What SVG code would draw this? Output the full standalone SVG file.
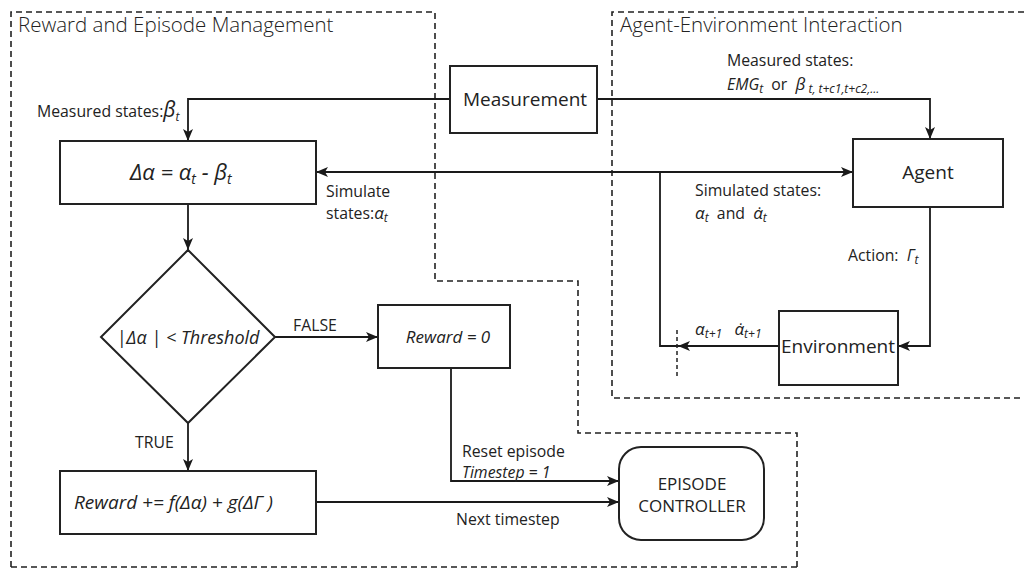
<svg xmlns="http://www.w3.org/2000/svg" width="1024" height="569" viewBox="0 0 1024 569">
<defs>
<marker id="arr" viewBox="0 0 12 10" refX="12" refY="5" markerWidth="12" markerHeight="10" markerUnits="userSpaceOnUse" orient="auto-start-reverse">
<path d="M0,0 L12,5 L0,10 L3,5 z" fill="#1a1a1a"/>
</marker>
</defs>
<style>
text{font-family:"Open Sans","Liberation Sans",sans-serif;fill:#222}
.title{font-size:20.5px;font-weight:300}
.lbl{font-size:15.8px}
.node{font-size:19px}
.it{font-style:italic}
.box{fill:#fff;stroke:#222;stroke-width:2}
.con{fill:none;stroke:#1a1a1a;stroke-width:1.8}
.dash{fill:none;stroke:#222;stroke-width:1.6;stroke-dasharray:6,4}
.sub{font-size:12px}
</style>
<rect width="1024" height="569" fill="#fff"/>
<g id="regions">
<path class="dash" d="M11,567 V12 H435 V281 H578 V433 H797 V569"/>
<path class="dash" d="M11,567 H797"/>
<path class="dash" d="M1024,12 H612 V398 H1024"/>
<text class="title" x="18" y="32">Reward and Episode Management</text>
<text class="title" x="620" y="32">Agent-Environment Interaction</text>
</g>
<g id="connectors">
<path class="con" d="M450,99 H188 V141" marker-end="url(#arr)"/>
<path class="con" d="M597,99 H930 V139" marker-end="url(#arr)"/>
<path class="con" d="M316,172 H853" marker-start="url(#arr)" marker-end="url(#arr)"/>
<path class="con" d="M779,346 H678" marker-end="url(#arr)"/>
<path class="con" d="M680,346 H660 V172"/>
<path d="M677,330 V376" fill="none" stroke="#222" stroke-width="1.5" stroke-dasharray="4,3"/>
<path class="con" d="M930,207 V346 H898" marker-end="url(#arr)"/>
<path class="con" d="M188,204 V250" marker-end="url(#arr)"/>
<path class="con" d="M275,337 H378" marker-end="url(#arr)"/>
<path class="con" d="M188,423 V471" marker-end="url(#arr)"/>
<path class="con" d="M451,368 V481 H619" marker-end="url(#arr)"/>
<path class="con" d="M316,502 H619" marker-end="url(#arr)"/>
<text class="lbl" x="37" y="117">Measured states:<tspan class="it" font-size="21">β</tspan><tspan class="it sub" dy="4">t</tspan></text>
<text class="lbl" x="727" y="66">Measured states:</text>
<text class="lbl" x="727" y="90" xml:space="preserve"><tspan class="it">EMG</tspan><tspan class="it sub" dy="3">t</tspan><tspan dy="-3">  or  </tspan><tspan class="it" font-size="17">β</tspan><tspan class="it sub" dy="3"> t, t+c1,t+c2,...</tspan></text>
<text class="lbl" x="326" y="197">Simulate</text>
<text class="lbl" x="326" y="219">states:<tspan class="it" font-size="17">α</tspan><tspan class="it sub" dy="3">t</tspan></text>
<text class="lbl" x="695" y="196">Simulated states:</text>
<text class="lbl" x="695" y="219" xml:space="preserve"><tspan class="it" font-size="17">α</tspan><tspan class="it sub" dy="3">t</tspan><tspan dy="-3">  and  </tspan><tspan class="it" font-size="17">α̇</tspan><tspan class="it sub" dy="3">t</tspan></text>
<text class="lbl" x="848" y="261" xml:space="preserve">Action:  <tspan class="it" font-size="16">Γ</tspan><tspan class="it sub" dy="3">t</tspan></text>
<text class="lbl" x="695" y="335" xml:space="preserve"><tspan class="it" font-size="17">α</tspan><tspan class="it sub" dy="3">t+1</tspan><tspan dy="-3">   </tspan><tspan class="it" font-size="17">α̇</tspan><tspan class="it sub" dy="3">t+1</tspan></text>
<text class="lbl" x="293" y="331">FALSE</text>
<text class="lbl" x="135" y="448">TRUE</text>
<text class="lbl" x="462" y="457">Reset episode</text>
<text class="lbl it" x="462" y="478">Timestep = 1</text>
<text class="lbl" x="456" y="525">Next timestep</text>
</g>
<g id="measurement">
<rect class="box" x="450" y="66" width="147" height="67"/>
<text class="node" x="525" y="106" text-anchor="middle">Measurement</text>
</g>
<g id="delta">
<rect class="box" x="60" y="141" width="256" height="63"/>
<text class="it" font-size="22" x="130" y="180">Δα = α<tspan dy="4" font-size="14">t</tspan><tspan dy="-4"> - β</tspan><tspan dy="4" font-size="14">t</tspan></text>
</g>
<g id="agent">
<rect class="box" x="853" y="139" width="150" height="68"/>
<text class="node" x="928" y="179" text-anchor="middle">Agent</text>
</g>
<g id="environment">
<rect class="box" x="779" y="311" width="119" height="74"/>
<text class="node" x="838" y="353" text-anchor="middle">Environment</text>
</g>
<g id="threshold">
<path class="box" d="M188,250 L275,337 L188,423 L101,337 z"/>
<text class="it" font-size="18" x="188" y="344" text-anchor="middle">|Δα | &lt; Threshold</text>
</g>
<g id="reward0">
<rect class="box" x="378" y="305" width="132" height="63"/>
<text class="it" font-size="17" x="448" y="343" text-anchor="middle">Reward = 0</text>
</g>
<g id="rewardplus">
<rect class="box" x="60" y="471" width="256" height="63"/>
<text class="it" font-size="19" x="74" y="509">Reward += f(Δα) + g(ΔΓ )</text>
</g>
<g id="episode">
<rect class="box" x="619" y="447" width="145" height="93" rx="22"/>
<text font-size="17" x="692" y="490" text-anchor="middle">EPISODE</text>
<text font-size="17" x="692" y="512" text-anchor="middle">CONTROLLER</text>
</g>
</svg>
